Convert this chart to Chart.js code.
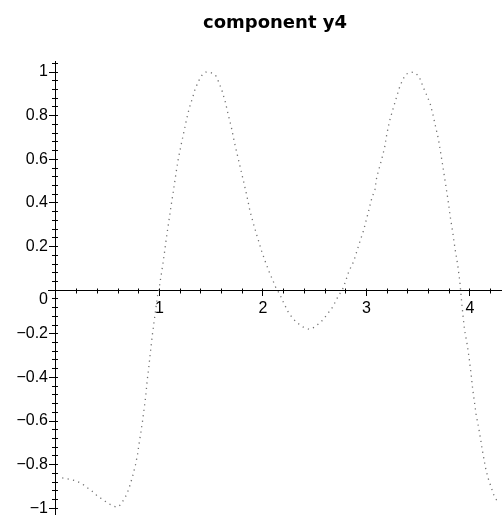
<!DOCTYPE html>
<html>
<head>
<meta charset="utf-8">
<script src="https://cdn.jsdelivr.net/npm/chart.js@4/dist/chart.umd.min.js"></script>
<style>
  html, body { margin: 0; padding: 0; background: #fff; }
  #chart { display: block; }
</style>
</head>
<body>
<canvas id="chart" width="502" height="527"></canvas>
<script>
const titleText = 'component y4';

// curve samples
const xs = [0.06, 0.125, 0.193, 0.254, 0.302, 0.35, 0.395, 0.437, 0.476, 0.511, 0.556, 0.585, 0.61, 0.636, 0.662, 0.688, 0.71, 0.74, 0.768, 0.787, 0.803, 0.82, 0.836, 0.852, 0.868, 0.881, 0.897, 0.913, 0.93, 0.955, 0.98, 1.0, 1.022, 1.045, 1.067, 1.09, 1.113, 1.137, 1.16, 1.182, 1.21, 1.24, 1.263, 1.29, 1.32, 1.343, 1.369, 1.392, 1.42, 1.447, 1.475, 1.51, 1.543, 1.575, 1.607, 1.637, 1.667, 1.697, 1.727, 1.757, 1.787, 1.815, 1.845, 1.875, 1.905, 1.941, 1.987, 2.025, 2.06, 2.1, 2.13, 2.16, 2.192, 2.244, 2.289, 2.337, 2.385, 2.449, 2.498, 2.562, 2.616, 2.674, 2.722, 2.771, 2.8, 2.83, 2.877, 2.91, 2.94, 2.97, 2.995, 3.021, 3.05, 3.083, 3.1, 3.131, 3.15, 3.176, 3.195, 3.221, 3.253, 3.285, 3.317, 3.349, 3.382, 3.43, 3.47, 3.51, 3.549, 3.587, 3.619, 3.645, 3.668, 3.696, 3.719, 3.742, 3.763, 3.787, 3.808, 3.835, 3.857, 3.882, 3.902, 3.916, 3.931, 3.947, 3.976, 3.995, 4.012, 4.027, 4.044, 4.06, 4.085, 4.103, 4.12, 4.137, 4.155, 4.175, 4.198, 4.218, 4.238, 4.266];
const ys = [-0.861, -0.866, -0.874, -0.888, -0.905, -0.922, -0.941, -0.955, -0.968, -0.979, -0.99, -0.995, -0.99, -0.975, -0.955, -0.932, -0.902, -0.855, -0.801, -0.757, -0.704, -0.653, -0.602, -0.542, -0.484, -0.416, -0.352, -0.284, -0.21, -0.12, -0.03, 0.02, 0.085, 0.16, 0.24, 0.314, 0.389, 0.462, 0.537, 0.602, 0.668, 0.734, 0.786, 0.838, 0.882, 0.92, 0.949, 0.972, 0.992, 1.0, 1.0, 0.995, 0.985, 0.952, 0.911, 0.862, 0.8, 0.742, 0.672, 0.611, 0.551, 0.494, 0.432, 0.362, 0.31, 0.252, 0.18, 0.128, 0.084, 0.04, 0.005, -0.016, -0.05, -0.1, -0.13, -0.152, -0.168, -0.18, -0.17, -0.145, -0.114, -0.077, -0.032, 0.006, 0.043, 0.086, 0.132, 0.183, 0.228, 0.27, 0.315, 0.363, 0.418, 0.463, 0.52, 0.571, 0.605, 0.655, 0.71, 0.771, 0.825, 0.876, 0.926, 0.964, 0.99, 1.0, 0.997, 0.979, 0.93, 0.89, 0.85, 0.8, 0.75, 0.692, 0.625, 0.557, 0.492, 0.418, 0.343, 0.262, 0.187, 0.116, 0.041, -0.032, -0.107, -0.18, -0.255, -0.321, -0.388, -0.454, -0.514, -0.571, -0.632, -0.683, -0.733, -0.778, -0.824, -0.861, -0.893, -0.922, -0.949, -0.967];

const xRange = [-0.077, 4.31];
const yRange = [-1.028, 1.048];
const xMajorStep = 1, xMinorStep = 0.2;
const yMajorStep = 0.2, yMinorStep = 0.04;

const points = xs.map((x, i) => ({ x: x, y: ys[i] }));

const tickFont = { family: '"Liberation Sans", Arial, sans-serif', size: 16 };

function fmt(v) {
  const n = Number(v.toFixed(2));
  return n < 0 ? '\u2212' + String(-n) : String(n);
}

// x axes sit on y = 0, y axes on x = 0; they take no layout room
function xAxis(step, tickLen, labels) {
  return {
    type: 'linear', axis: 'x',
    min: xRange[0], max: xRange[1],
    position: { y: 0 },
    afterFit: s => { s.height = 0; },
    border: { display: true, color: '#000', width: 1 },
    grid: { drawOnChartArea: false, color: '#000', tickLength: tickLen, lineWidth: 1 },
    ticks: {
      display: labels, stepSize: step, includeBounds: false,
      color: '#000', font: tickFont, padding: 4, maxRotation: 0,
      callback: v => (v === 0 ? '' : fmt(v))
    }
  };
}

function yAxis(step, tickLen) {
  return {
    type: 'linear', axis: 'y',
    min: yRange[0], max: yRange[1],
    position: { x: 0 },
    afterFit: s => { s.width = 0; },
    border: { display: true, color: '#000', width: 1 },
    grid: { drawOnChartArea: false, color: '#000', tickLength: tickLen, lineWidth: 1 },
    ticks: { display: false, stepSize: step, includeBounds: false }
  };
}

// label-only y scale, right edge of its text at the left of the plot
const yLabelAxis = {
  type: 'linear', axis: 'y',
  min: yRange[0], max: yRange[1],
  position: { x: xRange[0] },
  afterFit: s => { s.width = 0; },
  border: { display: false },
  grid: { display: false, drawTicks: false },
  ticks: {
    stepSize: yMajorStep, includeBounds: false,
    color: '#000', font: tickFont,
    callback: v => (Math.abs(v) < 1e-9 ? ['', '0'] : fmt(v))
  }
};

new Chart(document.getElementById('chart'), {
  type: 'scatter',
  data: {
    datasets: [{
      data: points,
      showLine: true,
      borderColor: '#707070',
      borderWidth: 1.3,
      borderDash: [1.2, 4.3],
      pointRadius: 0,
      tension: 0,
      xAxisID: 'x',
      yAxisID: 'y'
    }]
  },
  options: {
    responsive: false,
    animation: false,
    layout: { padding: { left: 48, right: 0, top: 0, bottom: 7 }, autoPadding: false },
    plugins: {
      legend: { display: false },
      tooltip: { enabled: false },
      title: {
        display: true,
        text: titleText,
        fullSize: false,
        color: '#000',
        font: { family: '"DejaVu Sans", sans-serif', size: 18, weight: 'bold', lineHeight: 1.2 },
        padding: { top: 13, bottom: 27 }
      }
    },
    scales: {
      x: xAxis(xMajorStep, 5, true),
      xMinorDown: xAxis(xMinorStep, 2.5, false),
      xMinorUp: xAxis(xMinorStep, -2.5, false),
      y: yAxis(yMajorStep, 6),
      yMinorLeft: yAxis(yMinorStep, 3),
      yMinorRight: yAxis(yMinorStep, -3),
      yLabels: yLabelAxis
    }
  }
});
</script>
</body>
</html>
